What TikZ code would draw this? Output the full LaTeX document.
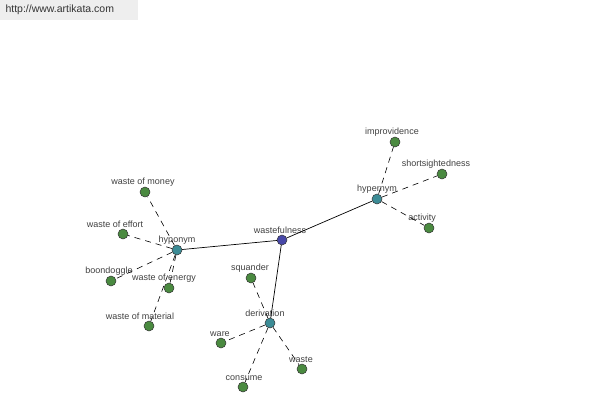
\documentclass[tikz,border=0pt]{standalone}
\usepackage{fontspec}
\setmainfont{Liberation Sans}
\definecolor{hubblue}{HTML}{4848A8}
\definecolor{reltea}{HTML}{3C8C96}
\definecolor{leafgreen}{HTML}{4A8A40}
\definecolor{sitegray}{HTML}{EEEEEE}

\begin{document}
\begin{tikzpicture}[
  x=1pt, y=-1pt,
  % --- node looks
  dot/.style={circle, draw=black!80, line width=0.5pt, minimum size=10pt, inner sep=0pt},
  hub/.style={dot, fill=hubblue},
  rel/.style={dot, fill=reltea},
  leaf/.style={dot, fill=leafgreen},
  lbl/.style={font=\fontsize{9}{10}\selectfont, text=black!75, inner sep=1pt, label distance=-0.5pt},
  % --- connector looks
  strong/.style={draw=black, line width=0.7pt},
  weak/.style={draw=black, line width=0.6pt, dash pattern=on 6pt off 5pt},
]
\useasboundingbox (0,0) rectangle (600,400);

% site banner
\fill[sitegray] (0,0) rectangle (138,20);
\node[anchor=west, font=\fontsize{10.5}{12}\selectfont, text=black!80] (site) at (2,10) {http://www.artikata.com};

%========================
% centre and relation nodes
%========================
\node[hub, label={[lbl, xshift=-2pt]above:wastefulness}] (waste-c) at (282,240) {};
\node[rel, label={[lbl]above:hypernym}] (hyper) at (377,199) {};
\node[rel, label={[lbl]above:hyponym}] (hypo) at (177,250) {};
\node[rel, label={[lbl, xshift=-5pt]above:derivation}] (deriv) at (270,323) {};

%========================
% leaves
%========================
% hypernym side
\node[leaf, label={[lbl, xshift=-3pt]above:improvidence}] (improv) at (395,142) {};
\node[leaf, label={[lbl, xshift=-6pt]above:shortsightedness}] (shorts) at (442,174) {};
\node[leaf, label={[lbl, xshift=-7pt]above:activity}] (activ) at (429,228) {};

% hyponym side
\node[leaf, label={[lbl, xshift=-2pt]above:waste of money}] (wmoney) at (145,192) {};
\node[leaf, label={[lbl, xshift=-8pt]above:waste of effort}] (weffort) at (123,234) {};
\node[leaf, label={[lbl, xshift=-2pt]above:boondoggle}] (boond) at (111,281) {};
\node[leaf, label={[lbl, xshift=-5pt]above:waste of energy}] (wenergy) at (169,288) {};
\node[leaf, label={[lbl, xshift=-9pt]above:waste of material}] (wmater) at (149,326) {};

% derivation side
\node[leaf, label={[lbl, xshift=-1pt]above:squander}] (squand) at (251,278) {};
\node[leaf, label={[lbl, xshift=-1pt]above:ware}] (ware) at (221,343) {};
\node[leaf, label={[lbl, xshift=1pt]above:consume}] (consume) at (243,387) {};
\node[leaf, label={[lbl, xshift=-1pt]above:waste}] (wastel) at (302,369) {};

%========================
% connectors
%========================
\draw[strong] (waste-c) -- (hyper);
\draw[strong] (waste-c) -- (hypo);
\draw[strong] (waste-c) -- (deriv);

\foreach \leafname in {improv, shorts, activ}
  \draw[weak] (hyper) -- (\leafname);
\foreach \leafname in {wmoney, weffort, boond, wenergy, wmater}
  \draw[weak] (hypo) -- (\leafname);
\foreach \leafname in {squand, ware, consume, wastel}
  \draw[weak] (deriv) -- (\leafname);

\end{tikzpicture}
\end{document}
